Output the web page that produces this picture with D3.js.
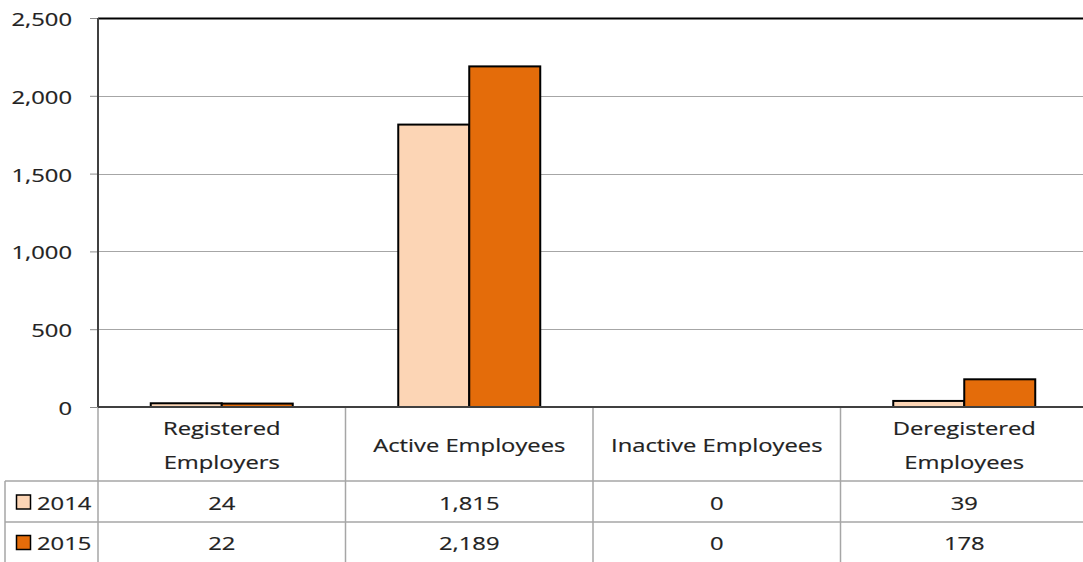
<!DOCTYPE html>
<html>
<head>
<meta charset="utf-8">
<script src="https://cdn.jsdelivr.net/npm/d3@7"></script>
<style>
  html, body { margin: 0; padding: 0; background: #fff; }
  svg { display: block; }
  text { font-family: "Open Sans", "Noto Sans", sans-serif; fill: #222; stroke: #222; stroke-width: 0.2px; }
</style>
</head>
<body>
<svg id="chart" width="1083" height="562"></svg>
<script>
// Chart data
const categories = [["Registered", "Employers"], ["Active Employees"], ["Inactive Employees"], ["Deregistered", "Employees"]];
const seriesNames = ["2014", "2015"];
const values2014 = [24, 1815, 0, 39];
const values2015 = [22, 2189, 0, 178];
const yTicks = [0, 500, 1000, 1500, 2000, 2500];
const colors = ["#FCD5B5", "#E46C0A"];

const series = [values2014, values2015];
const svg = d3.select("#chart");
const W = 1083;
const plot = { left: 98, right: 1088, top: 18, bottom: 407 };
const tableRows = { header: 481, r1: 522, r2: 562 };
const FS = 19, SX = 1.25; // font size, horizontal stretch of the text

const x = d3.scaleBand().domain(d3.range(categories.length)).range([plot.left, plot.right]).paddingInner(0).paddingOuter(0);
const xs = d3.scaleBand().domain(d3.range(seriesNames.length)).range([0, x.bandwidth()]).paddingInner(0).paddingOuter(0.743);
const y = d3.scaleLinear().domain([0, 2500]).range([plot.bottom, plot.top]);

function label(g, tx, ty, str, anchor) {
  return g.append("text")
    .attr("transform", `translate(${tx},${ty}) scale(${SX},1)`)
    .attr("text-anchor", anchor || "middle")
    .attr("dominant-baseline", "central")
    .style("font-size", FS + "px")
    .text(str);
}

// Gridlines
svg.append("g").selectAll("line").data(yTicks.filter(d => d > 0 && d < 2500)).join("line")
  .attr("x1", plot.left).attr("x2", W)
  .attr("y1", d => Math.round(y(d)) + 0.5).attr("y2", d => Math.round(y(d)) + 0.5)
  .attr("stroke", "#a6a6a6").attr("stroke-width", 1);

// Y axis
const yAxis = svg.append("g").attr("transform", `translate(${plot.left},0)`)
  .call(d3.axisLeft(y).tickValues(yTicks).tickSize(8).tickPadding(0).tickFormat(d3.format(",")));
yAxis.select(".domain").remove();
yAxis.selectAll(".tick line").attr("stroke", "#8c8c8c");
yAxis.selectAll(".tick text").remove();
yAxis.selectAll(".tick").each(function(d) {
  label(d3.select(this), -26, 0, d3.format(",")(d), "end");
});

// Top border
svg.append("line").attr("x1", plot.left).attr("x2", W).attr("y1", plot.top + 0.5).attr("y2", plot.top + 0.5)
  .attr("stroke", "#000").attr("stroke-width", 2);

// Bars
const barG = svg.append("g");
series.forEach((vals, si) => {
  barG.selectAll(null).data(vals).join("rect")
    .attr("x", (d, i) => x(i) + xs(si))
    .attr("width", xs.bandwidth())
    .attr("y", d => y(d))
    .attr("height", d => y(0) - y(d))
    .attr("fill", colors[si])
    .attr("stroke", "#000").attr("stroke-width", 2);
});

// Left axis line
svg.append("line").attr("x1", plot.left).attr("x2", plot.left).attr("y1", plot.top).attr("y2", plot.bottom)
  .attr("stroke", "#404040").attr("stroke-width", 2);

// Data table grid
const grid = svg.append("g").attr("stroke", "#a6a6a6").attr("stroke-width", 1.5);
d3.range(categories.length).forEach(i => {
  const xx = x(i);
  grid.append("line").attr("x1", xx).attr("x2", xx).attr("y1", plot.bottom).attr("y2", tableRows.r2);
});
grid.append("line").attr("x1", 5).attr("x2", 5).attr("y1", tableRows.header).attr("y2", tableRows.r2);
[tableRows.header, tableRows.r1].forEach(yy => {
  grid.append("line").attr("x1", 5).attr("x2", W).attr("y1", yy).attr("y2", yy);
});

// Category axis line
svg.append("line").attr("x1", plot.left).attr("x2", W).attr("y1", plot.bottom).attr("y2", plot.bottom)
  .attr("stroke", "#404040").attr("stroke-width", 2);

// Category headers
const tg = svg.append("g");
categories.forEach((lines, i) => {
  const cx = x(i) + x.bandwidth() / 2;
  const mid = (plot.bottom + tableRows.header) / 2;
  lines.forEach((ln, k) => {
    label(tg, cx, mid + (k - (lines.length - 1) / 2) * 34, ln);
  });
});

// Series rows with legend keys
const rowMid = [(tableRows.header + tableRows.r1) / 2, (tableRows.r1 + tableRows.r2) / 2];
series.forEach((vals, si) => {
  const ym = rowMid[si] + 0.5;
  tg.append("rect").attr("x", 16.5).attr("y", ym - 7).attr("width", 14).attr("height", 14)
    .attr("fill", colors[si]).attr("stroke", "#000").attr("stroke-width", 1.5);
  label(tg, 37, ym, seriesNames[si], "start");
  vals.forEach((v, i) => {
    label(tg, x(i) + x.bandwidth() / 2, ym, d3.format(",")(v));
  });
});
</script>
</body>
</html>
